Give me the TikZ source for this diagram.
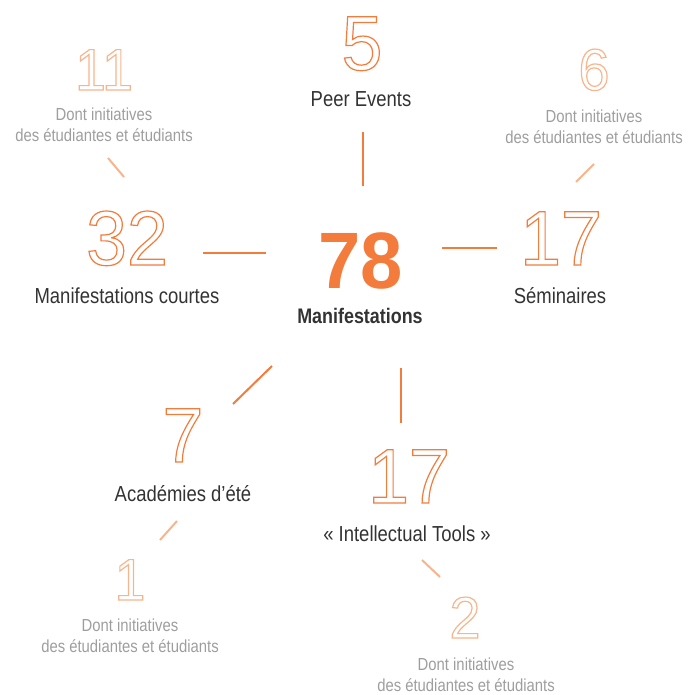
\documentclass[tikz,border=0pt]{standalone}
\usepackage{fontspec}
\setmainfont{Liberation Sans}[FakeStretch=0.85]
\newfontfamily\digitfont{Liberation Sans}[FakeStretch=0.95]
\usepackage{xcolor}

\definecolor{mainorange}{HTML}{F37B3B}
\definecolor{paleorange}{HTML}{F8B48C}
\definecolor{labelgray}{HTML}{333333}
\definecolor{notegray}{HTML}{9E9E9E}

% outlined digits
\newcommand{\hollow}[1]{\special{pdf:literal direct 1 Tr 0.9 w}#1\special{pdf:literal direct 0 Tr}}

\tikzset{
  bignum/.style={anchor=base,inner sep=0.75pt,text=mainorange,font=\digitfont\fontsize{58}{58}\selectfont},
  smallnum/.style={anchor=base,inner sep=0.75pt,text=paleorange,font=\digitfont\fontsize{44}{44}\selectfont},
  label/.style={anchor=base,inner sep=0.75pt,text=labelgray,font=\fontsize{16.3}{19}\selectfont},
  note/.style={inner sep=0.75pt,text=notegray,align=center,font=\fontsize{13.1}{16}\selectfont}
}
\tikzset{
  link/.style={draw=mainorange,line width=1.5pt},
  palelink/.style={draw=paleorange,line width=1.5pt}
}

\begin{document}
\begin{tikzpicture}[x=0.75pt,y=0.75pt,yscale=-1,xscale=1]
\useasboundingbox (0,0) rectangle (699,695);

% Centre
\node (total) [anchor=base,inner sep=0.75pt,text=mainorange,font=\digitfont\fontsize{60}{60}\selectfont\bfseries] at (361,288) {78};
\node (totalLabel) [anchor=base,inner sep=0.75pt,text=labelgray,font=\fontsize{15.8}{18}\selectfont\bfseries] at (360,323) {Manifestations};

% Peer Events
\node (peerNum) [bignum] at (362,70) {\hollow{5}};
\node (peerLabel) [label] at (361,107) {Peer Events};

% Manifestations courtes
\node (shortNum) [bignum] at (127,265) {\hollow{32}};
\node (shortLabel) [label] at (127,303) {Manifestations courtes};
\node (shortStudNum) [smallnum] at (104,90) {\hollow{11}};
\node (shortStud) [note] at (104,124.5) {Dont initiatives\\des étudiantes et étudiants};

% Seminaires
\node (semNum) [bignum] at (561,265) {\hollow{17}};
\node (semLabel) [label] at (560,303) {Séminaires};
\node (semStudNum) [smallnum] at (594,90) {\hollow{6}};
\node (semStud) [note] at (594,127) {Dont initiatives\\des étudiantes et étudiants};

% Academies d'ete
\node (acadNum) [bignum] at (183,462) {\hollow{7}};
\node (acadLabel) [label] at (183,501) {Académies d’été};
\node (acadStudNum) [smallnum] at (130,600) {\hollow{1}};
\node (acadStud) [note] at (130,636) {Dont initiatives\\des étudiantes et étudiants};

% Intellectual Tools
\node (toolsNum) [bignum] at (409,503) {\hollow{17}};
\node (toolsLabel) [label] at (407,541) {« Intellectual Tools »};
\node (toolsStudNum) [smallnum] at (465,638) {\hollow{2}};
\node (toolsStud) [note] at (466,674.5) {Dont initiatives\\des étudiantes et étudiants};

% connector ends
\coordinate (peerA) at (363,132);  \coordinate (peerB) at (363,186);
\coordinate (shortA) at (203,253); \coordinate (shortB) at (266,253);
\coordinate (semA) at (442,248);   \coordinate (semB) at (497,248);
\coordinate (acadA) at (233,404);  \coordinate (acadB) at (272,366);
\coordinate (toolsA) at (401,368); \coordinate (toolsB) at (401,423);
\coordinate (shortS) at (108,158); \coordinate (shortT) at (124,177);
\coordinate (semS) at (594,164);   \coordinate (semT) at (576,182);
\coordinate (acadS) at (177,521);  \coordinate (acadT) at (160,540);
\coordinate (toolsS) at (422,560); \coordinate (toolsT) at (440,577);

\draw [link] (peerA) -- (peerB);
\draw [link] (shortA) -- (shortB);
\draw [link] (semA) -- (semB);
\draw [link] (acadA) -- (acadB);
\draw [link] (toolsA) -- (toolsB);
\draw [palelink] (shortS) -- (shortT);
\draw [palelink] (semS) -- (semT);
\draw [palelink] (acadS) -- (acadT);
\draw [palelink] (toolsS) -- (toolsT);

\end{tikzpicture}
\end{document}
